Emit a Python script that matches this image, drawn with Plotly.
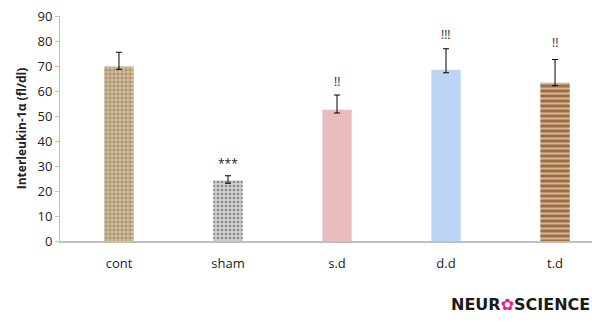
import plotly.graph_objects as go

categories = ["cont", "sham", "s.d", "d.d", "t.d"]
values = [69.8, 24.2, 52.5, 68.5, 63.3]
err_plus = [5.7, 1.9, 5.9, 8.4, 9.3]
err_minus = [1.1, 1.1, 1.3, 1.2, 1.2]
signif = ["", "***", "!!", "!!!", "!!"]
signif_y = [0, 31, 64, 82.5, 79.5]
y_ticks = [0, 10, 20, 30, 40, 50, 60, 70, 80, 90]

bg = ["#d9c095", "#cfcfd1", "#e9bdbd", "#bdd5f4", "#a06e3e"]
fg = ["#a0804a", "#8e8e92", "#e9bdbd", "#bdd5f4", "#5a3414"]
shapes = ["+", ".", "", "", "-"]
sizes = [4, 4, 6, 7, 5]
solid = [0.35, 0.35, 0.3, 0.3, 0.4]

fig = go.Figure()
fig.add_trace(go.Bar(
    x=categories, y=values, width=0.27,
    marker=dict(color=bg, line=dict(width=0),
                pattern=dict(shape=shapes, fgcolor=fg, size=sizes,
                             solidity=solid, fillmode="overlay")),
    error_y=dict(type="data", array=err_plus, arrayminus=err_minus,
                 color="black", thickness=1, width=3),
    showlegend=False,
))

for c, s, yy in zip(categories, signif, signif_y):
    if s:
        fig.add_annotation(x=c, y=yy, text=s, showarrow=False,
                           font=dict(size=12, color="#222", family="Open Sans"))

fig.add_annotation(xref="paper", yref="paper", x=1.0, y=-0.28, xanchor="right", yanchor="middle",
                   text="<b>NEUR<span style='color:#e8188c'>✿</span>SCIENCE</b>", showarrow=False,
                   font=dict(size=16, color="#1a1a1a", family="DejaVu Sans"))

fig.update_layout(
    width=592, height=327,
    margin=dict(l=60, r=0, t=16, b=86),
    paper_bgcolor="white", plot_bgcolor="white",
    font=dict(family="Open Sans", size=12, color="#222"),
    bargap=0.7,
)
fig.update_xaxes(range=[-0.541, 4.339], showline=True, linecolor="#bfbfbf", linewidth=1.5,
                 ticks="", ticklabelstandoff=10, tickfont=dict(size=13, color="#222"),
                 showgrid=False, zeroline=False, fixedrange=True)
fig.update_yaxes(range=[0, 90], tickvals=y_ticks, showline=True, linecolor="#bfbfbf", linewidth=1,
                 ticks="outside", ticklen=4, tickcolor="#bfbfbf", showgrid=False, zeroline=False,
                 tickfont=dict(size=13, color="#222"),
                 title=dict(text="<b>Interleukin-1α (fl/dl)</b>", font=dict(size=12, color="#222"), standoff=8))

fig.write_html("out.html")
